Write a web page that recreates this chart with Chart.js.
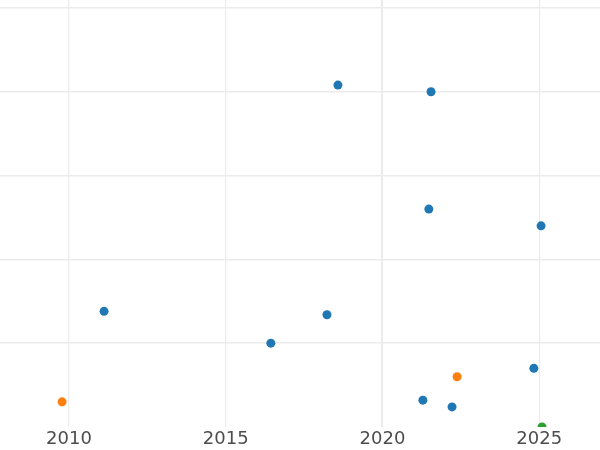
<!DOCTYPE html>
<html lang="en">
<head>
    <meta charset="UTF-8">
    <title>Scatter</title>
    <script src="https://cdn.jsdelivr.net/npm/chart.js"></script>
    <style>
        body { margin: 0; background: #fff; font-family: "DejaVu Sans", sans-serif; }
        .chart-container { width: 600px; height: 450px; }
    </style>
</head>
<body>
    <div class="chart-container">
        <canvas id="scatterChart"></canvas>
    </div>

    <script>
        // values
        const blueX = [2018.58, 2021.55, 2021.48, 2025.06, 2011.12, 2018.23, 2016.44, 2024.83, 2021.29, 2022.22];
        const blueY = [4.08, 4.00, 2.60, 2.40, 1.38, 1.34, 1.00, 0.70, 0.32, 0.24];
        const orangeX = [2009.78, 2022.38];
        const orangeY = [0.30, 0.60];
        const greenX = [2025.09];
        const greenY = [0.0];

        const xTicks = [2010, 2015, 2020, 2025];
        const yTicks = [1, 2, 3, 4, 5];

        function toPoints(xs, ys) {
            return xs.map((x, i) => ({ x: x, y: ys[i] }));
        }

        function makeSet(xs, ys, color) {
            return {
                data: toPoints(xs, ys),
                backgroundColor: color,
                borderWidth: 0,
                pointRadius: 4.5,
                clip: 0
            };
        }

        const ctx = document.getElementById('scatterChart').getContext('2d');
        new Chart(ctx, {
            type: 'scatter',
            data: {
                datasets: [
                    makeSet(blueX, blueY, '#1f77b4'),
                    makeSet(orangeX, orangeY, '#ff7f0e'),
                    makeSet(greenX, greenY, '#2ca02c')
                ]
            },
            options: {
                responsive: true,
                maintainAspectRatio: false,
                animation: false,
                layout: { padding: 0, autoPadding: false },
                plugins: {
                    legend: { display: false },
                    tooltip: { enabled: false }
                },
                scales: {
                    x: {
                        type: 'linear',
                        min: 2007.80,
                        max: 2026.94,
                        afterBuildTicks: axis => { axis.ticks = xTicks.map(v => ({ value: v })); },
                        afterFit: axis => { axis.height = 23; axis.paddingLeft = 0; axis.paddingRight = 0; },
                        grid: {
                            color: '#ebebeb',
                            lineWidth: c => (c.tick && c.tick.value === 2020 ? 2 : 1.2),
                            drawTicks: false
                        },
                        border: { display: false },
                        ticks: {
                            padding: 2,
                            color: '#4d4d4d',
                            font: { family: 'DejaVu Sans', size: 18 },
                            callback: v => String(v)
                        }
                    },
                    y: {
                        min: 0,
                        max: 5.095,
                        afterBuildTicks: axis => { axis.ticks = yTicks.map(v => ({ value: v })); },
                        afterFit: axis => { axis.width = 0; axis.paddingTop = 0; axis.paddingBottom = 0; },
                        grid: {
                            color: '#ebebeb',
                            lineWidth: 1.5,
                            drawTicks: false
                        },
                        border: { display: false },
                        ticks: { display: false, padding: 0 }
                    }
                }
            }
        });
    </script>
</body>
</html>
